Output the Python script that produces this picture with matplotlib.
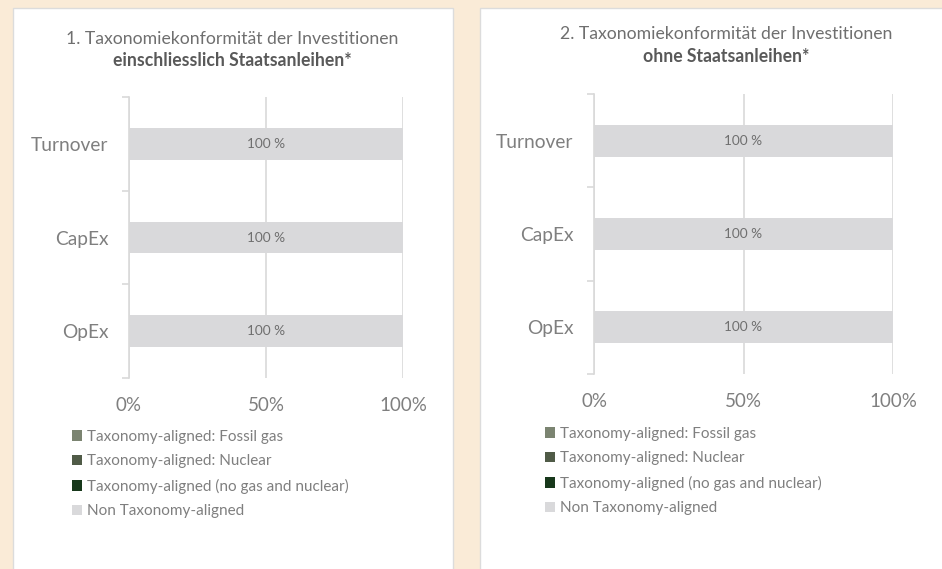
"""Two stacked bar panels: EU taxonomy alignment with and without sovereign bonds."""

import matplotlib

matplotlib.use("Agg")

import matplotlib.pyplot as plt  # noqa: E402
from matplotlib.patches import Rectangle  # noqa: E402

plt.rcParams["font.family"] = ["Lato", "DejaVu Sans"]

# --- data -----------------------------------------------------------------
categories = ["Turnover", "CapEx", "OpEx"]
series_names = [
    "Taxonomy-aligned: Fossil gas",
    "Taxonomy-aligned: Nuclear",
    "Taxonomy-aligned (no gas and nuclear)",
    "Non Taxonomy-aligned",
]
series_colors = ["#7b8471", "#505b47", "#17381b", "#d9d9db"]

# panel 1: including sovereign bonds (percent)
incl_fossil = [0, 0, 0]
incl_nuclear = [0, 0, 0]
incl_aligned = [0, 0, 0]
incl_non = [100, 100, 100]

# panel 2: excluding sovereign bonds (percent)
excl_fossil = [0, 0, 0]
excl_nuclear = [0, 0, 0]
excl_aligned = [0, 0, 0]
excl_non = [100, 100, 100]

xticks = [0, 50, 100]
xtick_labels = ["0%", "50%", "100%"]

title_lines = [
    ("1. Taxonomiekonformität der Investitionen", "einschliesslich Staatsanleihen*"),
    ("2. Taxonomiekonformität der Investitionen", "ohne Staatsanleihen*"),
]

W, H = 942, 569
BG = "#faebd7"
GRID = "#d9d9d9"
TXT = "#7f7f7f"


def fx(px):
    return px / W


def fy(py):
    return 1 - py / H


def draw_panel(ax, series):
    y = list(range(len(categories)))
    left = [0] * len(categories)
    containers = []
    for vals, name, col in zip(series, series_names, series_colors):
        bc = ax.barh(y, vals, left=left, height=0.34, color=col, label=name, zorder=2)
        labels = [f"{v:.0f} %" if v > 0 else "" for v in vals]
        ax.bar_label(bc, labels=labels, label_type="center", color="#6f6f6f", fontsize=9.8)
        containers.append(bc)
        left = [a + b for a, b in zip(left, vals)]

    ax.set_xlim(0, 100)
    ax.set_ylim(len(categories) - 0.5, -0.5)
    ax.set_xticks(xticks)
    ax.set_xticklabels(xtick_labels)
    ax.tick_params(axis="x", length=0, pad=14, labelsize=13.5, labelcolor=TXT)
    ax.grid(axis="x", color=GRID, linewidth=1.2, zorder=0)

    # category boundaries carry the tick marks, centres carry the labels
    ax.set_yticks([i - 0.5 for i in range(len(categories) + 1)])
    ax.set_yticklabels([])
    ax.set_yticks(y, minor=True)
    ax.set_yticklabels(categories, minor=True)
    ax.tick_params(axis="y", which="major", length=5, width=1.2, color=GRID, direction="out")
    ax.tick_params(axis="y", which="minor", length=0, pad=15, labelsize=13.8, labelcolor=TXT)

    for side in ("top", "right", "bottom"):
        ax.spines[side].set_visible(False)
    ax.spines["left"].set_color(GRID)
    ax.spines["left"].set_linewidth(1.2)
    ax.set_facecolor("none")
    return containers


fig = plt.figure(figsize=(W / 100, H / 100), dpi=100)
fig.patch.set_facecolor(BG)

# white chart cards, kept behind the axes
fig.patches.append(Rectangle((fx(13), -0.05), fx(440), fy(8) + 0.05, transform=fig.transFigure,
                             facecolor="white", edgecolor="#dcdcdc", linewidth=1, zorder=-5))
fig.patches.append(Rectangle((fx(480), -0.05), fx(500), fy(8) + 0.05, transform=fig.transFigure,
                             facecolor="white", edgecolor="#dcdcdc", linewidth=1, zorder=-5))

ax1 = fig.add_axes([fx(129), fy(378), fx(403 - 129), (378 - 97) / H])
ax2 = fig.add_axes([fx(594), fy(374), fx(893 - 594), (374 - 94) / H])

c1 = draw_panel(ax1, [incl_fossil, incl_nuclear, incl_aligned, incl_non])
c2 = draw_panel(ax2, [excl_fossil, excl_nuclear, excl_aligned, excl_non])

# titles
for (line1, line2), cx, y1, y2 in [
    (title_lines[0], 232, 39, 61),
    (title_lines[1], 726, 34, 56),
]:
    fig.text(fx(cx), fy(y1), line1, ha="center", va="center", fontsize=12.7, color="#6f6f6f")
    fig.text(fx(cx), fy(y2), line2, ha="center", va="center", fontsize=12.7,
             color="#595959", fontweight="bold")

# legends
for ax, conts, lx, ly in [(ax1, c1, 72, 430), (ax2, c2, 545, 427)]:
    ax.legend(conts, series_names, loc="upper left",
              bbox_to_anchor=(fx(lx), fy(ly)), bbox_transform=fig.transFigure,
              frameon=False, fontsize=11, labelcolor=TXT, borderpad=0, borderaxespad=0,
              handlelength=0.68, handleheight=0.68, handletextpad=0.3, labelspacing=0.68)

fig.savefig("out.png", dpi=100, facecolor=BG)
